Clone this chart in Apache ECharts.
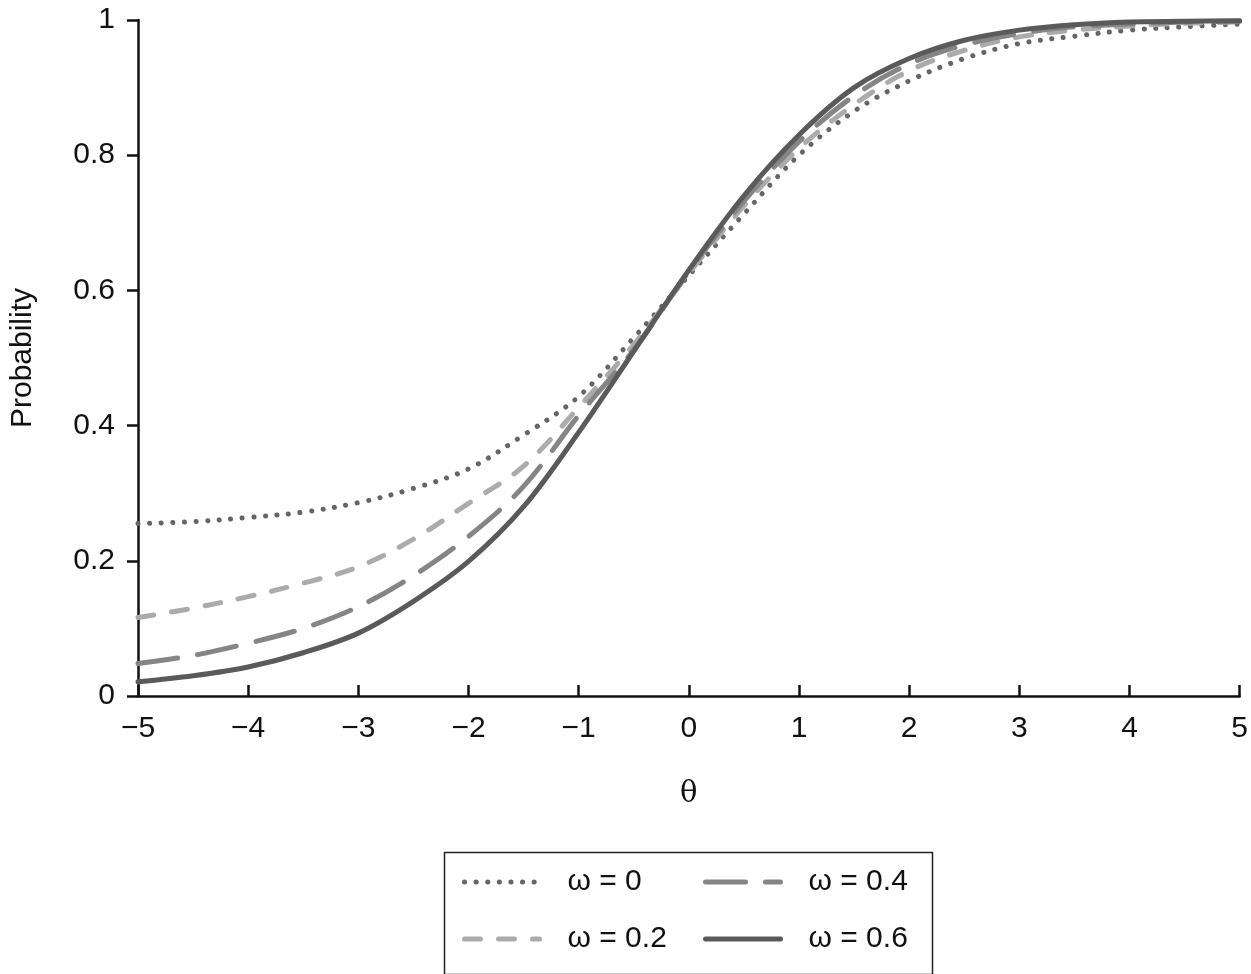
<!DOCTYPE html>
<html>
<head>
<meta charset="utf-8">
<script src="https://cdn.jsdelivr.net/npm/echarts@6/dist/echarts.min.js"></script>
<style>
  html, body { margin: 0; padding: 0; background: #fff; }
  #chart { width: 1251px; height: 974px; }
</style>
</head>
<body>
<div id="chart"></div>
<script>
// theta grid the curves were read at
const thetas = [-5, -4.5, -4, -3.5, -3, -2.5, -2, -1.5, -1, -0.5, 0, 0.5, 1, 1.5, 2, 2.5, 3, 3.5, 4, 4.5, 5];

// probabilities
const omega0  = [0.255, 0.258, 0.264, 0.272, 0.286, 0.307, 0.336, 0.386, 0.443, 0.530, 0.622, 0.713, 0.800, 0.865, 0.910, 0.943, 0.965, 0.976, 0.985, 0.990, 0.994];
const omega02 = [0.116, 0.130, 0.147, 0.167, 0.191, 0.232, 0.285, 0.340, 0.427, 0.520, 0.625, 0.725, 0.810, 0.875, 0.925, 0.955, 0.975, 0.985, 0.991, 0.995, 0.997];
const omega04 = [0.048, 0.060, 0.078, 0.100, 0.132, 0.178, 0.236, 0.310, 0.415, 0.512, 0.628, 0.732, 0.820, 0.888, 0.935, 0.963, 0.980, 0.990, 0.994, 0.997, 0.998];
const omega06 = [0.021, 0.030, 0.043, 0.064, 0.093, 0.140, 0.199, 0.280, 0.390, 0.510, 0.630, 0.740, 0.830, 0.900, 0.943, 0.970, 0.985, 0.993, 0.997, 0.998, 0.999];

const xTicks = [-5, -4, -3, -2, -1, 0, 1, 2, 3, 4, 5];
const yTicks = [0, 0.2, 0.4, 0.6, 0.8, 1];

const font = "'Liberation Sans', Arial, sans-serif";

const pairs = vals => thetas.map((t, i) => [t, vals[i]]);

function curve(name, vals, color, type) {
    return {
        name: name,
        type: 'line',
        data: pairs(vals),
        smooth: 0.35,
        symbol: 'none',
        lineStyle: { color: color, width: 5, type: type, cap: 'round' },
        itemStyle: { color: color },
        z: 2
    };
}

function legendCol(names, left) {
    return {
        data: names,
        orient: 'vertical',
        left: left,
        top: 866,
        padding: 0,
        itemGap: 25,
        itemWidth: 75,
        itemHeight: 14,
        itemStyle: { opacity: 0 },
        lineStyle: { width: 5, cap: 'round' },
        textStyle: { fontFamily: font, fontSize: 30, lineHeight: 32, color: '#111', padding: [0, 0, 0, 23] }
    };
}

const chart = echarts.init(document.getElementById('chart'), null, { renderer: 'canvas' });

const option = {
    animation: false,
    backgroundColor: '#fff',
    grid: { left: 136, right: 10, top: 20, bottom: 278, containLabel: false },
    xAxis: {
        type: 'value',
        min: xTicks[0],
        max: xTicks[xTicks.length - 1],
        interval: 1,
        name: 'θ',
        nameLocation: 'middle',
        nameGap: 84,
        nameTextStyle: { fontFamily: "'DejaVu Serif', 'Liberation Serif', serif", fontSize: 29, color: '#111' },
        axisLine: { onZero: false, lineStyle: { color: '#111', width: 2.5 } },
        axisTick: { show: true, length: 11, inside: true, lineStyle: { color: '#111', width: 2.5 } },
        axisLabel: {
            margin: 18,
            fontFamily: font,
            fontSize: 30,
            color: '#111',
            formatter: v => (v < 0 ? '−' + Math.abs(v) : String(v))
        },
        splitLine: { show: false }
    },
    yAxis: {
        type: 'value',
        min: yTicks[0],
        max: yTicks[yTicks.length - 1],
        interval: 0.2,
        name: 'Probability',
        nameLocation: 'middle',
        nameGap: 100,
        nameTextStyle: { fontFamily: font, fontSize: 30, color: '#111' },
        axisLine: { show: true, onZero: false, lineStyle: { color: '#111', width: 2.5 } },
        axisTick: { show: true, length: 11, inside: false, lineStyle: { color: '#111', width: 2.5 } },
        axisLabel: {
            margin: 23,
            fontFamily: font,
            fontSize: 30,
            color: '#111',
            formatter: v => String(Math.round(v * 10) / 10)
        },
        splitLine: { show: false }
    },
    legend: [
        legendCol(['ω = 0', 'ω = 0.2'], 462),
        legendCol(['ω = 0.4', 'ω = 0.6'], 703)
    ],
    graphic: [
        {
            type: 'rect',
            left: 442,
            top: 850,
            shape: { width: 488, height: 122 },
            style: { fill: 'none', stroke: '#222', lineWidth: 1.5 }
        }
    ],
    series: [
        curve('ω = 0', omega0, '#656565', [0.1, 11.5]),
        curve('ω = 0.2', omega02, '#ababab', [16, 18]),
        curve('ω = 0.4', omega04, '#858585', [40, 20]),
        curve('ω = 0.6', omega06, '#5a5a5a', 'solid')
    ]
};

chart.setOption(option);
</script>
</body>
</html>
